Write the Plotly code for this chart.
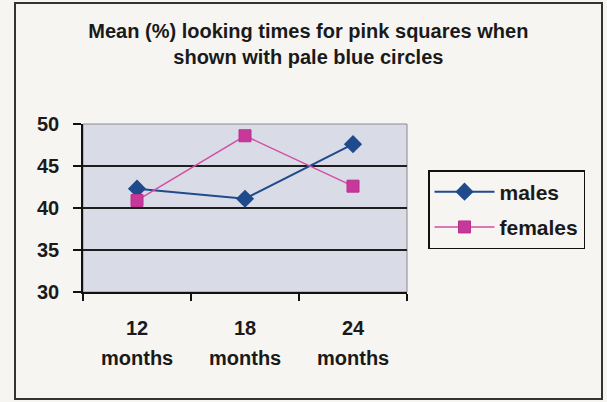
import plotly.graph_objects as go

categories = ["12 months", "18 months", "24 months"]
males = [42.3, 41.1, 47.6]
females = [40.9, 48.6, 42.6]
y_ticks = [30, 35, 40, 45, 50]

title_line1 = "Mean (%) looking times for pink squares when"
title_line2 = "shown with pale blue circles"

BG = "#f7f5f2"
PLOT_BG = "#d9dce6"
FONT = "Liberation Sans, Arial, sans-serif"
TXT = "#1a1a1a"

fig = go.Figure()
fig.add_trace(go.Scatter(
    x=categories, y=males, name="males", mode="lines+markers", legendgroup="m",
    line=dict(color="#1f4a8c", width=2),
    marker=dict(symbol="diamond", size=14, color="#1f4a8c"),
))
fig.add_trace(go.Scatter(
    x=categories, y=females, name="females", mode="lines+markers", legendgroup="f",
    line=dict(color="#d24fa3", width=1.5),
    marker=dict(symbol="square", size=12, color="#c8389b",
                line=dict(color="#b8308e", width=1)),
))

tick_first = [c.split(" ")[0] for c in categories]
tick_second = [c.split(" ")[1] for c in categories]

for c, t in zip(categories, tick_second):
    fig.add_annotation(x=c, xref="x", y=(292 - 358) / 168, yref="paper", text=t,
                       showarrow=False, yanchor="middle",
                       font=dict(size=20, color=TXT, family=FONT, weight="bold"))

fig.update_layout(
    width=607, height=402,
    paper_bgcolor=BG, plot_bgcolor=PLOT_BG,
    margin=dict(l=83, r=200, t=124, b=110),
    font=dict(family=FONT, color=TXT),
    title=dict(
        text=title_line1 + "<br>" + title_line2,
        font=dict(size=20, color=TXT, family=FONT, weight="bold"),
        x=0.508, xanchor="center", y=1 - 38 / 402, yanchor="middle",
    ),
    showlegend=True,
    legend=dict(
        x=(428 - 83) / 324, xanchor="left", y=(292 - 170) / 168, yanchor="top",
        bgcolor=BG, bordercolor="#111111", borderwidth=1.5,
        font=dict(size=21, color=TXT, family=FONT, weight="bold"),
        itemwidth=60, traceorder="grouped", tracegroupgap=5,
    ),
    xaxis=dict(
        type="category", categoryorder="array", categoryarray=categories,
        range=[-0.5, 2.5], tickson="boundaries",
        tickvals=categories, ticktext=tick_first,
        ticks="outside", ticklen=7, tickcolor="#111111", tickwidth=1.5,
        showline=True, linecolor="#111111", linewidth=1.5,
        showgrid=False, zeroline=False,
        tickfont=dict(size=20, color=TXT, family=FONT, weight="bold"),
        ticklabelstandoff=17,
    ),
    yaxis=dict(
        range=[30, 50], tickvals=y_ticks,
        ticks="outside", ticklen=8, tickcolor="#111111", tickwidth=1.5,
        showline=True, linecolor="#111111", linewidth=1.5,
        showgrid=True, gridcolor="#1e1e1e", gridwidth=1.5,
        zeroline=False,
        tickfont=dict(size=20, color=TXT, family=FONT, weight="bold"),
        ticklabelstandoff=10,
    ),
)

# plot-area frame (top/right in gray)
fig.add_shape(type="rect", xref="paper", yref="paper", x0=0, x1=1, y0=0, y1=1,
              line=dict(color="#8a8a8a", width=1), layer="below")
# outer chart border
fig.add_shape(type="rect", xref="paper", yref="paper",
              x0=(15 - 83) / 324, x1=(602 - 83) / 324,
              y0=(292 - 399) / 168, y1=(292 - 3) / 168,
              line=dict(color="#333333", width=2))

fig.write_html("out.html", config={"displayModeBar": False},
               post_script="document.body.style.margin='0';document.body.style.overflow='hidden';")
